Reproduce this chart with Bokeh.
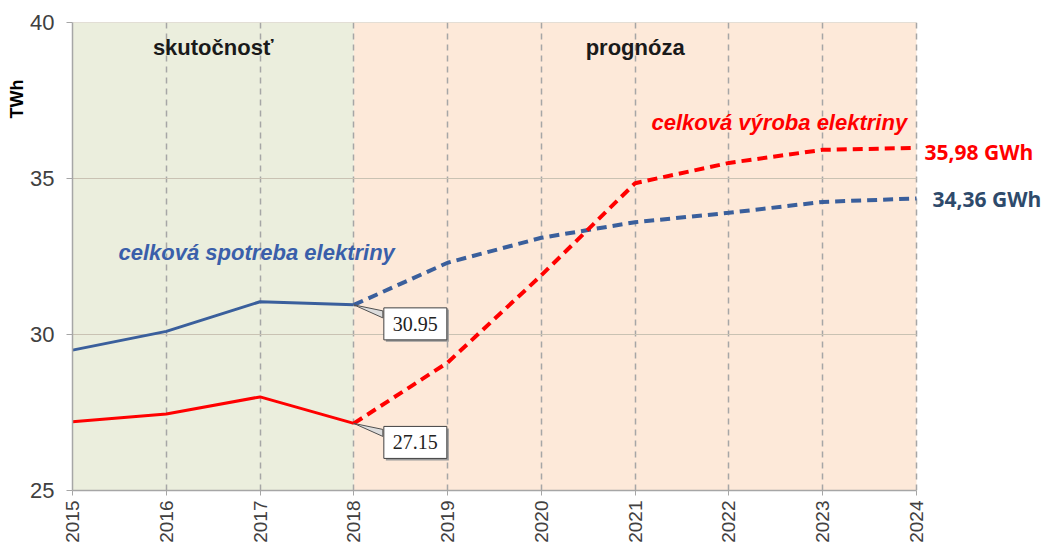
import math
from bokeh.plotting import figure
from bokeh.models import BoxAnnotation, Label, FixedTicker, Title
from bokeh.embed import file_html
from bokeh.resources import INLINE

years_actual = [2015, 2016, 2017, 2018]
years_forecast = [2018, 2019, 2020, 2021, 2022, 2023, 2024]
spotreba_actual = [29.5, 30.1, 31.05, 30.95]
spotreba_forecast = [30.95, 32.3, 33.1, 33.6, 33.9, 34.25, 34.36]
vyroba_actual = [27.2, 27.45, 28.0, 27.15]
vyroba_forecast = [27.15, 29.1, 31.9, 34.85, 35.5, 35.92, 35.98]
y_ticks = [25, 30, 35, 40]
x_ticks = list(range(2015, 2025))

BLUE = "#3A5F9C"
RED = "#FF0000"
X0, X1, Y0, Y1 = 2015, 2024, 25, 40
PX_YEAR = 844 / (X1 - X0)
PX_UNIT = 468 / (Y1 - Y0)
EXTRA_RIGHT = 130  # room for the end-value labels
XR_END = X1 + EXTRA_RIGHT / PX_YEAR

p = figure(output_backend="svg", toolbar_location=None,
           frame_width=844 + EXTRA_RIGHT, frame_height=468,
           x_range=(X0, XR_END), y_range=(Y0, Y1),
           min_border_left=72, min_border_right=0,
           min_border_top=22, min_border_bottom=56)
p.background_fill_color = "white"
p.border_fill_color = "white"
p.outline_line_color = None

# regions
p.add_layout(BoxAnnotation(left=years_actual[0], right=years_actual[-1],
                           fill_color="#EBEEDD", fill_alpha=1, line_color=None, level="image"))
p.add_layout(BoxAnnotation(left=years_forecast[0], right=years_forecast[-1],
                           fill_color="#FDE9D9", fill_alpha=1, line_color=None, level="image"))

# axes
p.xaxis.ticker = FixedTicker(ticks=x_ticks)
p.yaxis.ticker = FixedTicker(ticks=y_ticks)
p.xaxis.bounds = (X0, X1)
p.xaxis.major_label_orientation = math.pi / 2
for ax in (p.xaxis, p.yaxis):
    ax.axis_line_color = "#A6A6A6"
    ax.axis_line_width = 1.5
    ax.major_tick_line_color = "#A6A6A6"
    ax.minor_tick_line_color = None
    ax.major_tick_in = 0
    ax.major_label_text_font = "Liberation Sans"
    ax.major_label_text_color = "#404040"
p.yaxis.major_tick_out = 6
p.xaxis.major_tick_out = 5
p.yaxis.major_label_text_font_size = "22px"
p.xaxis.major_label_text_font_size = "19px"
p.yaxis.major_label_standoff = 12
p.xaxis.major_label_standoff = 5

p.add_layout(Title(text="TWh", align="right", offset=57, standoff=2,
                   text_font="Liberation Sans", text_font_style="bold",
                   text_font_size="18px", text_color="black"), "left")

p.xgrid.grid_line_color = "#A6A6A6"
p.xgrid.grid_line_dash = "6 5"
p.xgrid.grid_line_width = 1.5
p.ygrid.visible = False
# horizontal grid lines, limited to the chart years
p.segment(x0=[X0] * (len(y_ticks) - 1), x1=[X1] * (len(y_ticks) - 1),
          y0=y_ticks[1:], y1=y_ticks[1:], line_color="#C9C2B3", line_width=1.2)

# lines
p.line(years_actual, spotreba_actual, line_color=BLUE, line_width=3)
p.line(years_forecast, spotreba_forecast, line_color=BLUE, line_width=4, line_dash="10 6")
p.line(years_actual, vyroba_actual, line_color=RED, line_width=3)
p.line(years_forecast, vyroba_forecast, line_color=RED, line_width=4, line_dash="10 6")

# section titles
for xc, txt in ((2016.5, "skutočnosť"), (2021, "prognóza")):
    p.add_layout(Label(x=xc, y=Y1, y_offset=-25, text=txt, text_align="center",
                       text_baseline="middle", text_font="Liberation Sans",
                       text_font_style="bold", text_font_size="22px", text_color="#1A1A1A"))

# series labels
p.add_layout(Label(x=2015.49, y=32.63, text="celková spotreba elektriny", text_align="left",
                   text_baseline="middle", text_font="Liberation Sans",
                   text_font_style="bold italic", text_font_size="22px", text_color="#3A5FAA"))
p.add_layout(Label(x=2023.9, y=36.8, text="celková výroba elektriny", text_align="right",
                   text_baseline="middle", text_font="Liberation Sans",
                   text_font_style="bold italic", text_font_size="22px", text_color=RED))

# end value labels
p.add_layout(Label(x=years_forecast[-1], y=vyroba_forecast[-1], x_offset=8, y_offset=-4,
                   text=f"{vyroba_forecast[-1]:.2f} GWh".replace(".", ","),
                   text_align="left", text_baseline="middle", text_font="Open Sans",
                   text_font_style="bold", text_font_size="21px", text_color=RED))
p.add_layout(Label(x=years_forecast[-1], y=spotreba_forecast[-1], x_offset=16, y_offset=-1,
                   text=f"{spotreba_forecast[-1]:.2f} GWh".replace(".", ","),
                   text_align="left", text_baseline="middle", text_font="Open Sans",
                   text_font_style="bold", text_font_size="21px", text_color="#2E4A6B"))

# callouts
for yv in (spotreba_actual[-1], vyroba_actual[-1]):
    xv = years_actual[-1]
    bx = xv + 29 / PX_YEAR
    p.patch([xv, bx, bx], [yv, yv - 6 / PX_UNIT, yv - 13 / PX_UNIT],
            fill_color="#DDDDDD", line_color="#505050", line_width=1)
    p.add_layout(Label(x=xv, y=yv, x_offset=32, y_offset=-21, text=f"{yv:.2f}",
                       text_align="left", text_baseline="middle", text_font="Liberation Serif",
                       text_font_size="20px", padding=9, text_color="#9A9A9A",
                       background_fill_color="#9A9A9A", border_line_color=None))
    p.add_layout(Label(x=xv, y=yv, x_offset=30, y_offset=-19, text=f"{yv:.2f}",
                       text_align="left", text_baseline="middle", text_font="Liberation Serif",
                       text_font_size="20px", padding=9, text_color="#222222",
                       background_fill_color="white", border_line_color="#404040",
                       border_line_width=1))

open("out.html", "w").write(file_html(p, INLINE))
